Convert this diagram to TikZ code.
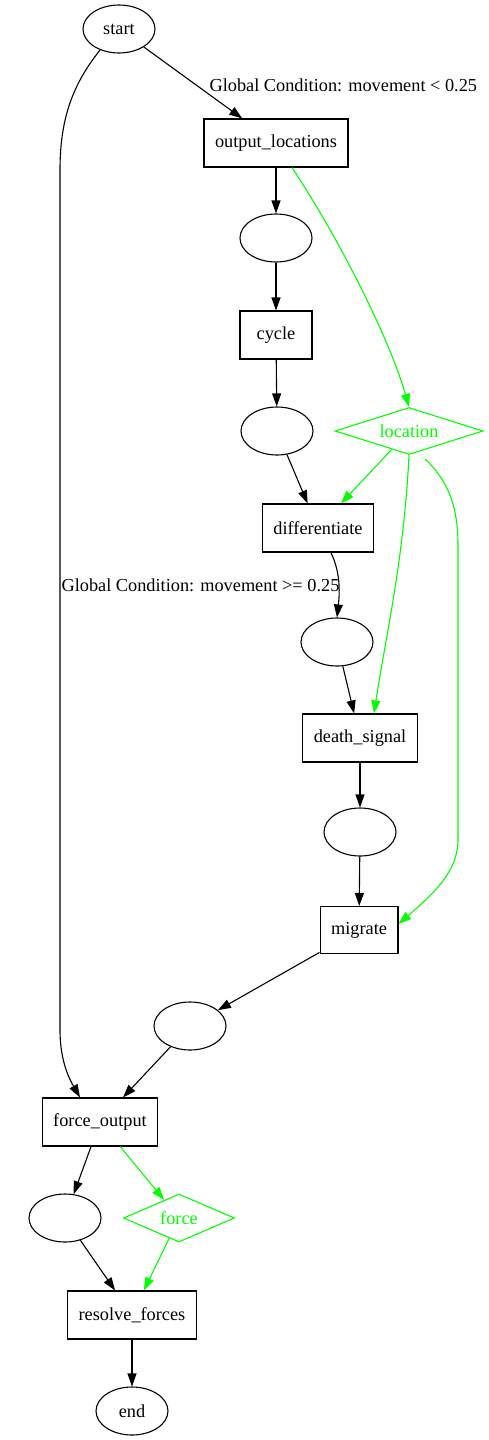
\documentclass[tikz,border=0pt]{standalone}
\usepackage{fontspec}
\setmainfont{Liberation Serif}
\usetikzlibrary{arrows.meta,shapes.geometric}
\definecolor{flowgreen}{RGB}{0,255,0}
\begin{document}
\begin{tikzpicture}[x=1pt,y=-1pt,
  font=\fontsize{18.3}{22}\selectfont,
  every node/.style={line width=1.1pt},
  state/.style={draw,ellipse,minimum width=72pt,minimum height=48pt,inner sep=0pt},
  task/.style={draw,rectangle,minimum width=72pt,minimum height=48pt,inner xsep=11pt,inner ysep=0pt},
  datum/.style={draw=flowgreen,text=flowgreen,diamond,aspect=3,inner sep=0pt},
  edge/.style={line width=1.1pt,-{Triangle[length=13pt,width=9pt]}},
  dataedge/.style={edge,draw=flowgreen,-{Triangle[length=13pt,width=9pt,fill=flowgreen]}},
  cond/.style={anchor=west,inner sep=0pt}]
  % canvas
  \fill[white] (0,0) rectangle (488,1440);
  \useasboundingbox (0,0) rectangle (488,1440);

  % nodes
  \node[state] (start) at (119,29) {start};
  \node[task] (outloc) at (276,143) {output\_locations};
  \node[state] (e1) at (276,238) {};
  \node[task] (cycle) at (276,335) {cycle};
  \node[state] (e2) at (277,431) {};
  \node[datum,minimum width=148pt,minimum height=47pt] (location) at (409,431) {location};
  \node[task] (diff) at (318,528) {differentiate};
  \node[state] (e3) at (337,642) {};
  \node[task] (death) at (360,738) {death\_signal};
  \node[state] (e4) at (360,832) {};
  \node[task,minimum height=47pt] (migrate) at (359,930) {migrate};
  \node[state] (e5) at (190,1026) {};
  \node[task] (forceout) at (100,1122) {force\_output};
  \node[state] (e6) at (65,1218) {};
  \node[datum,minimum width=111pt,minimum height=48pt] (force) at (179,1218) {force};
  \node[task] (resolve) at (132,1315) {resolve\_forces};
  \node[state] (end) at (132,1411) {end};

  % condition labels
  \node[cond] (condlt) at (209,85) {Global Condition: movement < 0.25};
  \node[cond] (condge) at (61,585) {Global Condition: movement >= 0.25};

  % control flow
  \draw[edge] (start) -- (outloc);
  \draw[edge] (start.228) .. controls (72,85) and (60,120) .. (60,170)
    -- (60,1030) .. controls (60,1062) and (70,1080) .. ([xshift=-20pt]forceout.north);
  \draw[edge] (outloc) -- (e1);
  \draw[edge] (e1) -- (cycle);
  \draw[edge] (cycle) -- (e2);
  \draw[edge] (e2) -- (diff);
  \draw[edge] ([xshift=13pt]diff.south) .. controls (340,572) and (340,590) .. (e3.north);
  \draw[edge] (e3) -- (death);
  \draw[edge] (death) -- (e4);
  \draw[edge] (e4) -- (migrate);
  \draw[edge] (migrate) -- (e5);
  \draw[edge] (e5) -- (forceout);
  \draw[edge] (forceout) -- (e6);
  \draw[edge] (e6) -- (resolve);
  \draw[edge] (resolve) -- (end);

  % data flow
  \draw[dataedge] ([xshift=16pt]outloc.south) .. controls (340,240) and (390,340) .. (location.north);
  \draw[dataedge] (location) -- (diff);
  \draw[dataedge] (location.south) .. controls (404,560) and (385,640) .. ([xshift=14pt]death.north);
  \draw[dataedge] ([xshift=16pt,yshift=-4pt]location.south) .. controls (450,482) and (458,510) .. (458,545)
    -- (458,840) .. controls (458,872) and (432,895) .. ([yshift=-18pt]migrate.north east);
  \draw[dataedge] (forceout) -- (force);
  \draw[dataedge] (force) -- (resolve);
\end{tikzpicture}
\end{document}
